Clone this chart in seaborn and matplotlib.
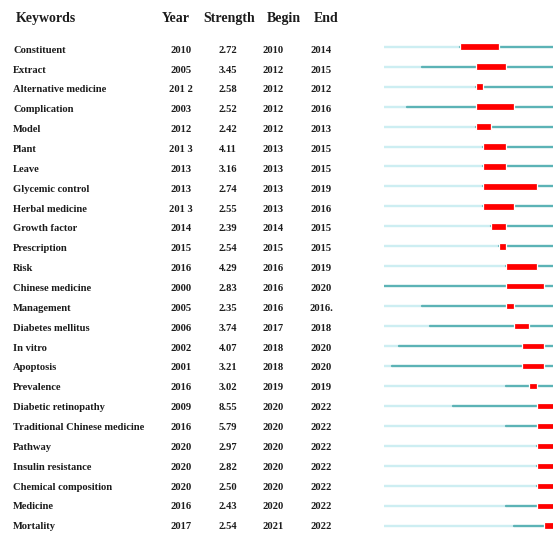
import matplotlib
matplotlib.use("Agg")
import matplotlib.pyplot as plt
import seaborn as sns
import pandas as pd

keywords = ["Constituent", "Extract", "Alternative medicine", "Complication", "Model",
            "Plant", "Leave", "Glycemic control", "Herbal medicine", "Growth factor",
            "Prescription", "Risk", "Chinese medicine", "Management", "Diabetes mellitus",
            "In vitro", "Apoptosis", "Prevalence", "Diabetic retinopathy",
            "Traditional Chinese medicine", "Pathway", "Insulin resistance",
            "Chemical composition", "Medicine", "Mortality"]
year_labels = ["2010", "2005", "201 2", "2003", "2012", "201 3", "2013", "2013", "201 3", "2014",
               "2015", "2016", "2000", "2005", "2006", "2002", "2001", "2016", "2009", "2016",
               "2020", "2020", "2020", "2016", "2017"]
strength = [2.72, 3.45, 2.58, 2.52, 2.42, 4.11, 3.16, 2.74, 2.55, 2.39, 2.54, 4.29, 2.83, 2.35,
            3.74, 4.07, 3.21, 3.02, 8.55, 5.79, 2.97, 2.82, 2.50, 2.43, 2.54]
begin = [2010, 2012, 2012, 2012, 2012, 2013, 2013, 2013, 2013, 2014, 2015, 2016, 2016, 2016,
         2017, 2018, 2018, 2019, 2020, 2020, 2020, 2020, 2020, 2020, 2021]
end_labels = ["2014", "2015", "2012", "2016", "2013", "2015", "2015", "2019", "2016", "2015",
              "2015", "2019", "2020", "2016.", "2018", "2020", "2020", "2019", "2022", "2022",
              "2022", "2022", "2022", "2022", "2022"]
headers = ["Keywords", "Year", "Strength", "Begin", "End"]
start_year, last_year = 2000, 2022

years = [int(s.replace(" ", "")) for s in year_labels]
ends = [int(s.rstrip(".")) for s in end_labels]

sns.set_theme(style="white")
W, H = 553, 534
fig = plt.figure(figsize=(W / 100, H / 100), dpi=100)
fig.patch.set_facecolor("white")

# text axes in pixel coordinates
ax_t = fig.add_axes([0, 0, 1, 1])
ax_t.set_xlim(0, W)
ax_t.set_ylim(H, 0)
ax_t.axis("off")

font = dict(family="Liberation Serif", fontweight="bold", color="#1c1c1c")
row0_base, row0_bar, step_text, step_bar = 52.8, 46.7, 19.85, 19.96

ax_t.text(16, 21.8, headers[0], ha="left", va="baseline", fontsize=10.0, **font)
for h, xc in zip(headers[1:], [176, 229, 284, 326]):
    ax_t.text(xc, 21.8, h, ha="center", va="baseline", fontsize=10.0, **font)

for i, kw in enumerate(keywords):
    y = row0_base + i * step_text
    ax_t.text(13, y, kw, ha="left", va="baseline", fontsize=7.6, **font)
    ax_t.text(181, y, year_labels[i], ha="center", va="baseline", fontsize=7.6, **font)
    ax_t.text(228, y, f"{strength[i]:.2f}", ha="center", va="baseline", fontsize=7.6, **font)
    ax_t.text(273, y, str(begin[i]), ha="center", va="baseline", fontsize=7.6, **font)
    ax_t.text(321, y, end_labels[i], ha="center", va="baseline", fontsize=7.6, **font)

# timeline axes
x0 = 384
px_per_year = 7.64
ax_b = fig.add_axes([x0 / W, 0, (W - x0) / W, 1])
ax_b.set_xlim(start_year, start_year + (W - x0) / px_per_year)
ax_b.set_ylim(H, 0)

rows = []
for i, kw in enumerate(keywords):
    y = row0_bar + i * step_bar
    rows.append(dict(x=start_year, y=y, unit=i, seg="before"))
    rows.append(dict(x=years[i], y=y, unit=i, seg="before"))
    rows.append(dict(x=years[i], y=y, unit=i, seg="active"))
    rows.append(dict(x=last_year + 1, y=y, unit=i, seg="active"))
df = pd.DataFrame(rows)

sns.lineplot(data=df, x="x", y="y", hue="seg", units="unit", estimator=None, sort=False,
             palette={"before": "#cdeef2", "active": "#5cb3b6"}, linewidth=1.7,
             legend=False, ax=ax_b)

bar_y = [row0_bar + i * step_bar for i in range(len(keywords))]
ax_b.barh(bar_y, [e - b + 1 for b, e in zip(begin, ends)], left=begin, height=6.5,
          color="#ff0000", edgecolor="white", linewidth=0.9, zorder=3)

ax_b.set_ylim(H, 0)
ax_b.axis("off")

fig.savefig("out.png", dpi=100, facecolor="white")
